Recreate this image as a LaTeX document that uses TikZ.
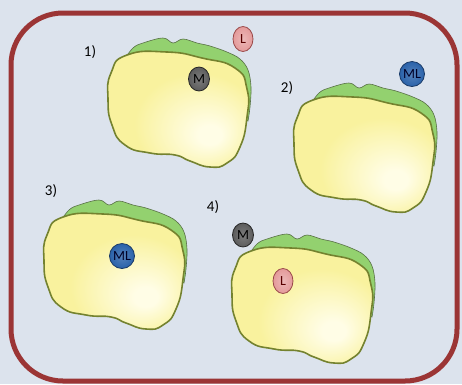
\documentclass[tikz,border=0pt]{standalone}
\usepackage{fontspec}
\setmainfont{Carlito}
\usetikzlibrary{shapes.geometric}

\definecolor{paper}{HTML}{DCE3ED}
\definecolor{frame}{HTML}{9B3535}
\definecolor{wall}{HTML}{93D16F}
\definecolor{wallline}{HTML}{587046}
\definecolor{cyto}{HTML}{F9F29E}
\definecolor{cytoglow}{HTML}{FFFDE6}
\definecolor{cytoline}{HTML}{74822F}
\definecolor{ligfill}{HTML}{E49A9A}
\definecolor{ligline}{HTML}{9A4A4A}
\definecolor{metfill}{HTML}{5C5C5C}
\definecolor{cplxfill}{HTML}{2A62AA}
\definecolor{cplxline}{HTML}{1A3A66}

% light spot low on the right of each cell body
\pgfdeclareradialshading{cellglow}{\pgfpoint{12bp}{-12bp}}{color(0bp)=(cytoglow); color(4bp)=(cytoglow); color(22bp)=(cyto); color(50bp)=(cyto)}

\tikzset{
  ligand/.style={ellipse, draw=ligline, line width=0.8pt, inner color=ligfill!70!white, outer color=ligfill,
    minimum width=20pt, minimum height=25pt, inner sep=0pt, text=red!35!black, font=\fontsize{14}{14}\selectfont},
  metal/.style={ellipse, draw=black!85, line width=0.8pt, inner color=metfill!80!white, outer color=metfill,
    minimum width=21pt, minimum height=24pt, inner sep=0pt, text=black, font=\fontsize{14}{14}\selectfont},
  complex/.style={circle, draw=cplxline, line width=0.8pt, inner color=cplxfill!80!white, outer color=cplxfill,
    minimum size=25pt, inner sep=0pt, text=blue!15!black, font=\fontsize{14}{14}\selectfont},
  tag/.style={font=\fontsize{15}{17}\selectfont, inner sep=0pt}
}

% one cell: green wall peeking out on top, yellow body in front
\newcommand{\cell}[2]{%
  \begin{scope}[shift={(#1,#2)}]
    \filldraw[fill=wall, draw=wallline, line width=0.6pt]
      plot[smooth, tension=0.6] coordinates {(16,24) (26,11) (36,6) (56,1) (66,6) (76,2) (90,6) (103,9) (120,15) (133,22) (141,33) (144,50) (143,70) (141,84)}
      -- (110,70) -- (40,40) -- cycle;
    \path[shading=cellglow, draw=cytoline, line width=1.6pt]
      plot[smooth cycle, tension=0.9] coordinates {(4,36) (20,18) (60,15) (95,21) (128,31) (140,52) (140,80) (133,110) (120,126) (103,130) (83,124) (68,118) (43,116) (18,108) (5,88) (1,62)};
  \end{scope}}

\begin{document}
\begin{tikzpicture}[x=1pt, y=-1pt]
  \useasboundingbox[fill=paper] (0,0) rectangle (462,384);
  \draw[frame, line width=5pt, rounded corners=52pt] (11,13) rectangle (457,381);

  \cell{107}{37}
  \cell{293}{82}
  \cell{43}{199}
  \cell{231}{233}

  % labels
  \node[tag] (lab1) at (90,52) {1)};
  \node[tag] (lab2) at (287,88) {2)};
  \node[tag] (lab3) at (51,191) {3)};
  \node[tag] (lab4) at (213,207) {4)};

  % 1) free ligand outside, metal inside
  \node[ligand] (L1) at (243,39) {L};
  \node[metal] (M1) at (199,79) {M};
  % 2) complex outside
  \node[complex] (ML2) at (412,74) {ML};
  % 3) complex inside
  \node[complex] (ML3) at (122,256) {ML};
  % 4) metal outside, ligand inside
  \node[metal] (M4) at (243,235) {M};
  \node[ligand] (L4) at (283,281) {L};
\end{tikzpicture}
\end{document}
